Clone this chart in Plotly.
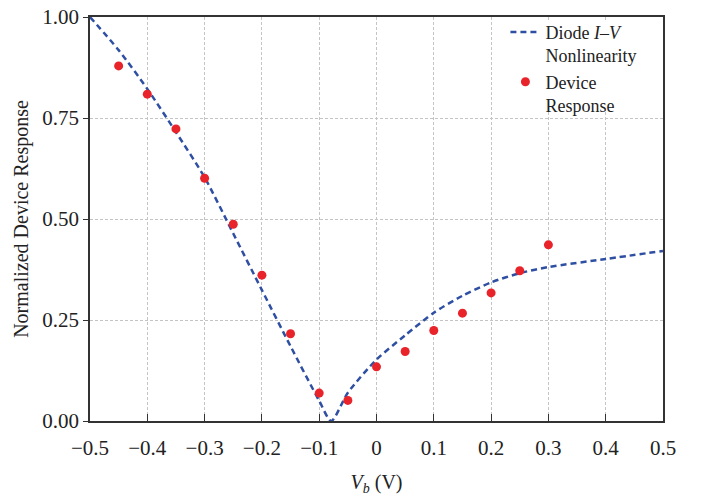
import plotly.graph_objects as go

# Diode I-V nonlinearity curve
curve_x = [-0.5, -0.45, -0.4, -0.35, -0.3, -0.25, -0.2, -0.15, -0.1, -0.079,
           -0.05, 0.0, 0.05, 0.1, 0.15, 0.2, 0.25, 0.3, 0.4, 0.5]
curve_y = [1.00, 0.918, 0.822, 0.715, 0.603, 0.464, 0.324, 0.185, 0.050, 0.0,
           0.070, 0.152, 0.212, 0.268, 0.310, 0.343, 0.366, 0.381, 0.401, 0.421]

# Device response points
dev_x = [-0.45, -0.4, -0.35, -0.3, -0.25, -0.2, -0.15, -0.1, -0.05,
         0.0, 0.05, 0.1, 0.15, 0.2, 0.25, 0.3]
dev_y = [0.879, 0.809, 0.723, 0.601, 0.487, 0.361, 0.216, 0.069, 0.051,
         0.134, 0.172, 0.224, 0.267, 0.317, 0.372, 0.436]

x_ticks = [-0.5, -0.4, -0.3, -0.2, -0.1, 0.0, 0.1, 0.2, 0.3, 0.4, 0.5]
x_tick_text = ["\u22120.5", "\u22120.4", "\u22120.3", "\u22120.2", "\u22120.1",
               "0", "0.1", "0.2", "0.3", "0.4", "0.5"]
y_ticks = [0.0, 0.25, 0.5, 0.75, 1.0]
y_tick_text = ["0.00", "0.25", "0.50", "0.75", "1.00"]

FONT = "Liberation Serif"

fig = go.Figure()
fig.add_trace(go.Scatter(
    x=curve_x, y=curve_y, mode="lines", line_shape="spline", line_smoothing=0.7,
    name="Diode <i>I</i>\u2013<i>V</i><br>Nonlinearity",
    line=dict(color="#2f4fa2", width=2.5, dash="6px,4px"),
))
fig.add_trace(go.Scatter(
    x=dev_x, y=dev_y, mode="markers",
    name="Device<br>Response",
    marker=dict(color="#e8232a", size=9),
))

# white backing behind the legend (hides gridlines, keeps the frame visible)
fig.add_shape(type="rect", xref="x domain", yref="y domain",
              x0=0.724, x1=0.995, y0=0.765, y1=0.99,
              fillcolor="white", line_width=0, layer="above")

fig.update_layout(
    width=709, height=498,
    margin=dict(l=90, r=46, t=17, b=77, autoexpand=False),
    paper_bgcolor="white", plot_bgcolor="white",
    font=dict(family=FONT, size=20, color="#222"),
    legend=dict(x=0.725, y=1.008, xanchor="left", yanchor="top",
                bgcolor="rgba(0,0,0,0)", borderwidth=0, valign="top",
                font=dict(family=FONT, size=18, color="#222"),
                tracegroupgap=0),
    showlegend=True,
)
fig.update_xaxes(
    range=[-0.5, 0.5], tickvals=x_ticks, ticktext=x_tick_text,
    showline=True, linecolor="#333", linewidth=1.5, mirror=True,
    ticks="inside", ticklen=7, tickcolor="#333", tickwidth=1.2,
    showgrid=True, gridcolor="#c4c4c4", griddash="3px,2px", gridwidth=1,
    zeroline=False, ticklabelstandoff=7, automargin=False,
    title=dict(text="<i>V</i><sub><i>b</i></sub> (V)", font=dict(family=FONT, size=20), standoff=16),
    tickfont=dict(family=FONT, size=21),
)
fig.update_yaxes(
    range=[0, 1.0], tickvals=y_ticks, ticktext=y_tick_text,
    showline=True, linecolor="#333", linewidth=1.5, mirror=True,
    ticks="outside", ticklen=5, tickcolor="#333", tickwidth=1.2,
    showgrid=True, gridcolor="#c4c4c4", griddash="3px,2px", gridwidth=1,
    zeroline=False, automargin=False,
    title=dict(text="Normalized Device Response", font=dict(family=FONT, size=20), standoff=8),
    tickfont=dict(family=FONT, size=21),
)

fig.write_html("out.html")
